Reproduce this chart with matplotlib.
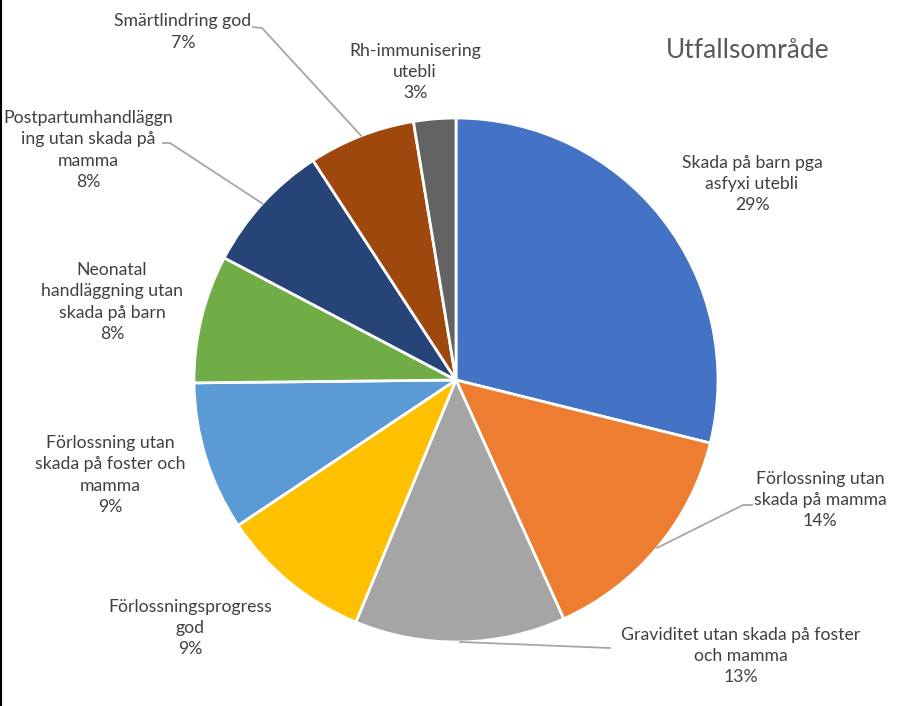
import matplotlib.pyplot as plt
import numpy as np

# slice data, clockwise from 12 o'clock
labels = ['Skada på barn pga\nasfyxi utebli',
          'Förlossning utan\nskada på mamma',
          'Graviditet utan skada på foster\noch mamma',
          'Förlossningsprogress\ngod',
          'Förlossning utan\nskada på foster och\nmamma',
          'Neonatal\nhandläggning utan\nskada på barn',
          'Postpartumhandläggn\ning utan skada på\nmamma',
          'Smärtlindring god',
          'Rh-immunisering\nutebli']
values = [28.9, 14.4, 13.0, 9.4, 9.2, 7.9, 8.1, 6.6, 2.6]
colors = ['#4472C4', '#ED7D31', '#A5A5A5', '#FFC000', '#5B9BD5',
          '#70AD47', '#264478', '#9E480E', '#636363']
title = 'Utfallsområde'

W, H = 913, 706
cx, cy, R = 456, 380, 262

def py(y):
    # pixel row -> data y
    return H - y

# label centre positions in pixels
label_pos = [(752, 184), (820, 500), (741, 656), (190, 628), (110, 475),
             (112, 302), (88, 150), (183, 32), (415, 72)]
# leader lines: slice index -> (elbow, end) in pixels
leaders = {1: ((743, 505), (752, 505)),
           2: ((610, 648), (610, 648)),
           6: ((170, 143), (163, 143)),
           7: ((262, 28), (253, 27))}

fig = plt.figure(figsize=(W / 100, H / 100), dpi=100)
ax = fig.add_axes([0, 0, 1, 1])
wedges, _ = ax.pie(values, colors=colors, startangle=90, counterclock=False,
                   center=(cx, py(cy)), radius=R,
                   wedgeprops=dict(edgecolor='white', linewidth=2))
ax.set_xlim(0, W)
ax.set_ylim(0, H)
ax.set_aspect('equal')
ax.axis('off')

total = sum(values)
for i, (lab, v) in enumerate(zip(labels, values)):
    x, y = label_pos[i]
    ax.text(x, py(y), f'{lab}\n{v / total * 100:.0f}%', ha='center', va='center',
            fontsize=12.7, family='Lato', color='#404040', linespacing=1.42)

for i, (elbow, end) in leaders.items():
    w = wedges[i]
    mid = np.deg2rad((w.theta1 + w.theta2) / 2)
    sx = cx + R * np.cos(mid)
    sy = py(cy) + R * np.sin(mid)
    ax.plot([sx, elbow[0], end[0]], [sy, py(elbow[1]), py(end[1])],
            color='#A6A6A6', lw=1.3, zorder=3)

ax.text(748, py(50), title, ha='center', va='center', fontsize=19,
        family='Lato', color='#595959')

# thin dark border on the left edge
fig.add_artist(plt.Line2D([0.001, 0.001], [0, 1], color='black', lw=1.5,
                          transform=fig.transFigure))

fig.savefig('out.png', dpi=100)
